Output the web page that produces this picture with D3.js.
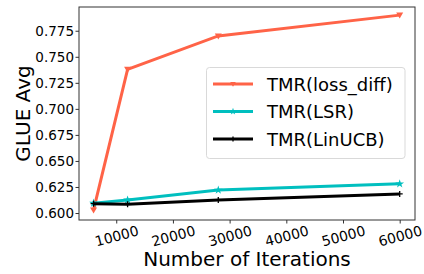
<!DOCTYPE html>
<html>
<head>
<meta charset="utf-8">
<script src="https://cdn.jsdelivr.net/npm/d3@7"></script>
<style>
body{margin:0;background:#fff;}
text{font-family:"DejaVu Sans",sans-serif;fill:#000;}
</style>
</head>
<body>
<script>
const svg_width = 424, svg_height = 274;
// data
var iterations = [6000, 12000, 28000, 60000];
var lossDiff = [0.603, 0.738, 0.770, 0.790];
var lsr = [0.6095, 0.6125, 0.622, 0.628];
var linucb = [0.609, 0.6085, 0.6125, 0.6183];
var xTicks = [10000, 20000, 30000, 40000, 50000, 60000];
var yTicks = [0.600, 0.625, 0.650, 0.675, 0.700, 0.725, 0.750, 0.775];
var seriesNames = ["TMR(loss_diff)", "TMR(LSR)", "TMR(LinUCB)"];
var seriesColors = ["#ff6347", "#00bfbf", "#000000"];
var seriesValues = [lossDiff, lsr, linucb];
var seriesMarkers = ["tri", "star", "plus"];

const plot_left = 79, plot_right = 415, plot_top = 7, plot_bottom = 220;

var svg = d3.select("body").append("svg")
	.attr("width", svg_width)
	.attr("height", svg_height);

var x = d3.scaleLinear().domain([3430, 62700]).range([plot_left, plot_right]);
var y = d3.scaleLinear().domain([0.5933, 0.7978]).range([plot_bottom, plot_top]);

// axes
var xAxis = svg.append("g")
	.attr("transform", "translate(0," + plot_bottom + ")")
	.call(d3.axisBottom(x).tickValues(xTicks).tickSize(3.5).tickFormat(d3.format("d")));
xAxis.select(".domain").remove();
xAxis.selectAll("line").attr("stroke", "#333");
xAxis.selectAll("text")
	.attr("font-size", "14px")
	.attr("font-family", "DejaVu Sans")
	.attr("text-anchor", "middle")
	.attr("dy", null)
	.attr("y", 0)
	.attr("dominant-baseline", "central")
	.attr("transform", "translate(0,16) rotate(-15)");

var yAxis = svg.append("g")
	.attr("transform", "translate(" + plot_left + ",0)")
	.call(d3.axisLeft(y).tickValues(yTicks).tickSize(3.5).tickPadding(1.5).tickFormat(d3.format(".3f")));
yAxis.select(".domain").remove();
yAxis.selectAll("line").attr("stroke", "#333");
yAxis.selectAll("text")
	.attr("font-size", "13.5px")
	.attr("font-family", "DejaVu Sans");

svg.append("rect")
	.attr("x", plot_left).attr("y", plot_top)
	.attr("width", plot_right - plot_left).attr("height", plot_bottom - plot_top)
	.attr("fill", "none")
	.attr("stroke", "#333")
	.attr("stroke-width", 1);

// axis labels
svg.append("text")
	.attr("x", (plot_left + plot_right) / 2)
	.attr("y", 266)
	.attr("text-anchor", "middle")
	.attr("font-size", "20px")
	.text("Number of Iterations");

svg.append("text")
	.attr("transform", "translate(30," + ((plot_top + plot_bottom) / 2) + ") rotate(-90)")
	.attr("text-anchor", "middle")
	.attr("font-size", "20px")
	.text("GLUE Avg");

function drawMarker(g, kind, cx, cy, color, k) {
	if (kind == "tri") {
		g.append("path")
			.attr("d", "M" + (cx - 3.5 * k) + "," + (cy - 2.5 * k) + "L" + (cx + 3.5 * k) + "," + (cy - 2.5 * k) + "L" + cx + "," + (cy + 3.5 * k) + "Z")
			.attr("fill", color);
	} else if (kind == "star") {
		g.append("path")
			.attr("transform", "translate(" + cx + "," + cy + ")")
			.attr("d", d3.symbol().type(d3.symbolStar).size(24 * k * k)())
			.attr("fill", color);
	} else {
		g.append("path")
			.attr("d", "M" + (cx - 3 * k) + "," + cy + "H" + (cx + 3 * k) + "M" + cx + "," + (cy - 3 * k) + "V" + (cy + 3 * k))
			.attr("stroke", color)
			.attr("stroke-width", 1.3);
	}
}

var line = d3.line()
	.x(function(d, i) { return x(iterations[i]); })
	.y(function(d) { return y(d); });

for (var s = 0; s < seriesValues.length; s++) {
	var g = svg.append("g");
	g.append("path")
		.attr("d", line(seriesValues[s]))
		.attr("fill", "none")
		.attr("stroke", seriesColors[s])
		.attr("stroke-width", 3);
	for (var i = 0; i < iterations.length; i++) {
		drawMarker(g, seriesMarkers[s], x(iterations[i]), y(seriesValues[s][i]), seriesColors[s], 1);
	}
}

// legend
var legend = svg.append("g");
legend.append("rect")
	.attr("x", 206.5).attr("y", 67.5)
	.attr("width", 198.5).attr("height", 91)
	.attr("rx", 3)
	.attr("fill", "#fff")
	.attr("fill-opacity", 0.8)
	.attr("stroke", "#d9d9d9")
	.attr("stroke-width", 1);
var legendY = [84, 111.5, 139];
for (var s = 0; s < seriesNames.length; s++) {
	legend.append("line")
		.attr("x1", 213).attr("x2", 253)
		.attr("y1", legendY[s]).attr("y2", legendY[s])
		.attr("stroke", seriesColors[s])
		.attr("stroke-width", 3);
	drawMarker(legend, seriesMarkers[s], 233, legendY[s], seriesColors[s], 0.8);
	legend.append("text")
		.attr("x", 267)
		.attr("y", legendY[s])
		.attr("dominant-baseline", "central")
		.attr("font-size", "18px")
		.text(seriesNames[s]);
}
</script>
</body>
</html>
